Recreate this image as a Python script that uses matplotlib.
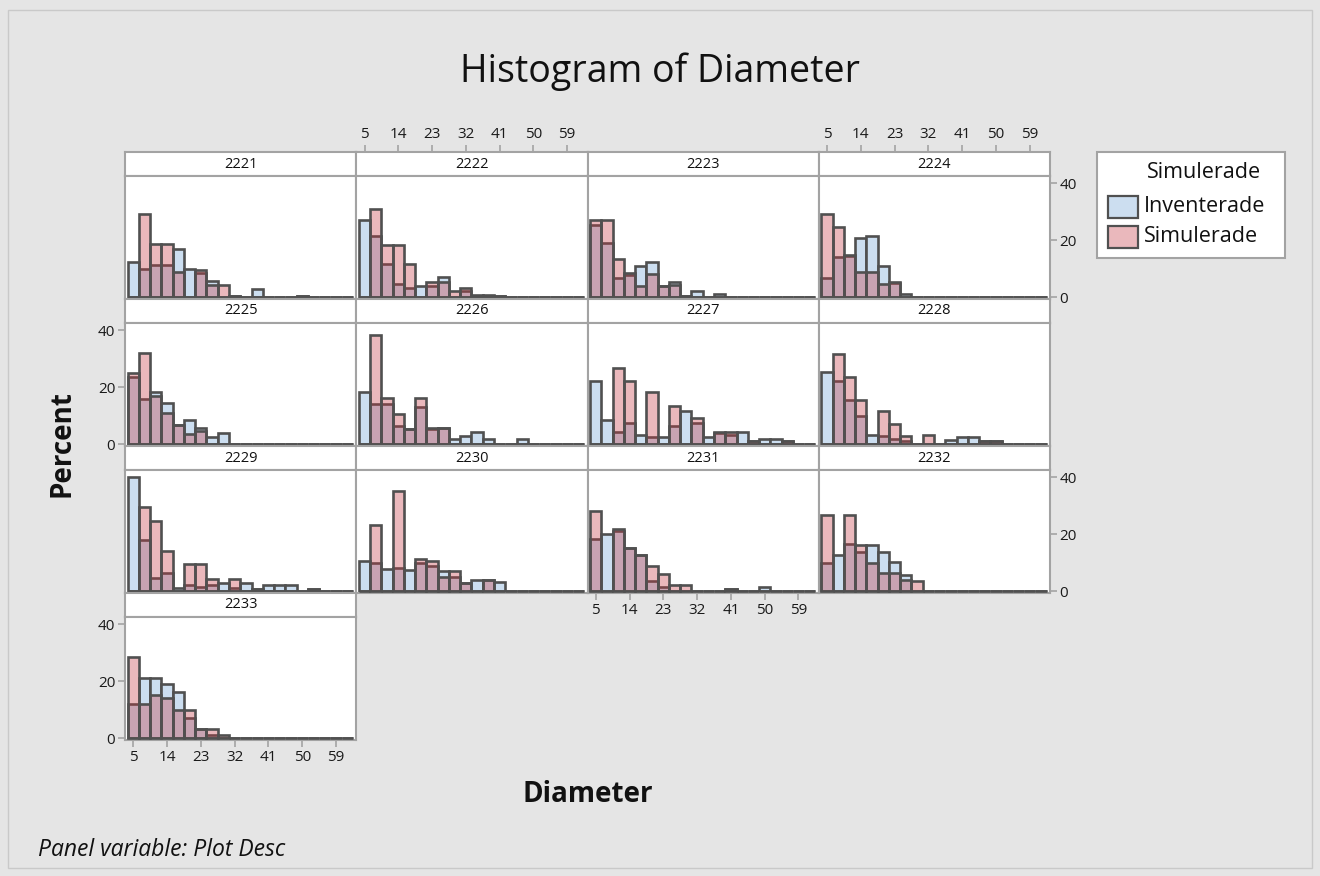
import matplotlib
matplotlib.use("Agg")
import matplotlib.pyplot as plt
from matplotlib.patches import Rectangle

plt.rcParams['font.family'] = ['Open Sans', 'DejaVu Sans']

# bin centres (bin width 3)
centers = [5 + 3 * k for k in range(20)]
xticks = [5, 14, 23, 32, 41, 50, 59]
yticks = [0, 20, 40]

panel_names = ['2221', '2222', '2223', '2224', '2225', '2226', '2227',
               '2228', '2229', '2230', '2231', '2232', '2233']

# percent per bin, Inventerade (inv) / Simulerade (sim)
inv_2221 = [12.3, 10, 11.3, 11.3, 17, 10, 8.4, 5.7, 0, 0.5, 0, 2.9, 0, 0, 0, 0.5]
sim_2221 = [0, 29, 18.6, 18.6, 8.8, 0, 9.4, 4.3, 4.3, 0.5, 0, 0, 0, 0, 0, 0.5]
inv_2222 = [26.9, 21.5, 11.7, 4.4, 3, 3.8, 3.8, 7, 0, 2, 0.6, 0.6, 0.4]
sim_2222 = [0, 30.9, 18.2, 18.2, 11.7, 0, 5.3, 5.3, 2, 3, 0, 0, 0.4]
inv_2223 = [25.4, 18.8, 6.7, 7.7, 10.9, 12.4, 3.8, 5.3, 0.5, 2.0, 0, 1.2]
sim_2223 = [26.9, 26.9, 13.3, 8.3, 3.8, 8.2, 3.8, 4.1, 0.5]
inv_2224 = [6.8, 14.2, 14.5, 20.7, 21.3, 10.9, 5, 1.2]
sim_2224 = [29.2, 24.7, 14.8, 8.9, 8.9, 4.5, 5.3]
inv_2225 = [23.4, 15.9, 18.3, 14.5, 6.8, 8.5, 5.5, 2.6, 3.8]
sim_2225 = [24.9, 32, 17, 10.9, 6.8, 3.6, 4.4]
inv_2226 = [18.2, 14.2, 14, 6.5, 5.3, 13, 5.3, 5.7, 1.8, 2.7, 4.1, 1.8, 0, 0, 1.8]
sim_2226 = [0, 38.3, 16.2, 10.7, 5.3, 16.2, 5.7, 5.7]
inv_2227 = [22.2, 8.3, 4.1, 7.3, 3.3, 2.6, 2.4, 6.5, 11.6, 7.3, 2.4, 4.0, 3.2, 4.1, 1.0, 1.8, 1.8, 1.0]
sim_2227 = [0, 0, 26.6, 22.2, 0, 18.3, 0, 13.3, 0, 9.2, 0, 4.1, 4.1, 0, 1.0, 0, 0, 1.0]
inv_2228 = [25.2, 22, 15.4, 9.8, 3, 2.7, 1.9, 1, 0, 0, 0, 1.5, 2.4, 2.4, 1, 1]
sim_2228 = [0, 31.5, 23.4, 15.4, 0, 11.6, 6.9, 2.7, 0, 3.3, 0, 0, 0, 0, 1, 1]
inv_2229 = [40, 18, 4.4, 6.2, 0.9, 2, 1.5, 2, 2.9, 1.2, 2.9, 0.6, 2, 2, 2, 0, 0.6]
sim_2229 = [0, 29.4, 24.5, 14, 0, 9.4, 9.4, 4.1, 0, 4.1, 0, 0.6, 0, 0, 0, 0, 0.6]
inv_2230 = [10.5, 10, 7.9, 8.1, 7.3, 10, 8.8, 6.9, 5, 2.9, 3.8, 3.8, 3.2]
sim_2230 = [0, 23.2, 0, 35.3, 0, 11.2, 10.7, 5, 6.9, 2.9, 0, 3.8]
inv_2231 = [18.2, 20, 21, 15, 12.8, 3.4, 1.4, 0, 0, 0, 0, 0, 0.8, 0, 0, 1.4]
sim_2231 = [28.1, 0, 21.8, 15.2, 12.8, 8.8, 5.8, 2, 2, 0, 0, 0, 0.8]
inv_2232 = [10, 12.8, 16.4, 13.8, 16.1, 13.8, 10.2, 5.5]
sim_2232 = [26.7, 0, 26.7, 16.1, 10, 6.5, 6.5, 3.8, 3.4]
inv_2233 = [12, 21, 21, 19, 16, 7, 3, 1]
sim_2233 = [28.5, 12, 15, 14, 10, 10, 3, 3, 1]

inv_all = [inv_2221, inv_2222, inv_2223, inv_2224, inv_2225, inv_2226, inv_2227,
           inv_2228, inv_2229, inv_2230, inv_2231, inv_2232, inv_2233]
sim_all = [sim_2221, sim_2222, sim_2223, sim_2224, sim_2225, sim_2226, sim_2227,
           sim_2228, sim_2229, sim_2230, sim_2231, sim_2232, sim_2233]

BG = '#e5e5e5'
FRAME = '#a3a3a3'
EDGE = '#505050'
BLUE = '#ccdef0'
PINK = (0.765, 0.21, 0.25, 0.35)

W, H = 1320, 876
fig = plt.figure(figsize=(W / 100, H / 100), dpi=100, facecolor=BG)


def pix_axes(x0, y0, x1, y1):
    return fig.add_axes([x0 / W, 1 - y1 / H, (x1 - x0) / W, (y1 - y0) / H])


def pad(vals):
    return list(vals) + [0] * (len(centers) - len(vals))


def style_frame(ax):
    for s in ax.spines.values():
        s.set_color(FRAME)
        s.set_linewidth(1.5)
    ax.tick_params(length=0, labelleft=False, labelbottom=False,
                   left=False, bottom=False)


col_w = 231.25
row_h = 147
xlim = (2.8, 64.4)
ylim = (-0.7, 42.5)
tick_kw = dict(colors=FRAME, labelcolor='#1a1a1a', labelsize=11,
               length=5, width=1.2, pad=2)

for i, name in enumerate(panel_names):
    r, c = divmod(i, 4)
    x0 = 125 + c * col_w
    x1 = x0 + col_w
    top = 152 + r * row_h

    st = pix_axes(x0, top, x1, top + 24)
    st.set_facecolor('white')
    style_frame(st)
    st.set_xlim(xlim)
    st.set_yticks([])
    st.set_xticks([])
    st.text(0.5, 0.5, name, transform=st.transAxes, ha='center',
            va='center', fontsize=10.5, color='#111111')

    ax = pix_axes(x0, top + 24, x1, top + row_h)
    ax.set_facecolor('white')
    style_frame(ax)
    ax.bar(centers, pad(inv_all[i]), width=3, color=BLUE,
           edgecolor=EDGE, linewidth=1.9, zorder=2)
    ax.bar(centers, pad(sim_all[i]), width=3, facecolor=PINK,
           edgecolor=EDGE, linewidth=1.9, zorder=3)
    ax.set_xlim(xlim)
    ax.set_ylim(ylim)
    ax.set_xticks(xticks)
    ax.set_yticks(yticks)

    # Minitab-style alternating axis labels
    if name in ('2222', '2224'):
        st.set_xticks(xticks)
        st.xaxis.tick_top()
        st.tick_params(axis='x', top=True, labeltop=True, **tick_kw)
    if name in ('2224', '2232'):
        ax.yaxis.tick_right()
        ax.tick_params(axis='y', right=True, labelright=True, **tick_kw)
    if name in ('2225', '2233'):
        ax.tick_params(axis='y', left=True, labelleft=True, **tick_kw)
    if name in ('2231', '2233'):
        ax.tick_params(axis='x', bottom=True, labelbottom=True, **tick_kw)

# overlay in pixel coordinates for titles and legend
ov = fig.add_axes([0, 0, 1, 1], zorder=10)
ov.set_xlim(0, W)
ov.set_ylim(H, 0)
ov.axis('off')
ov.patch.set_alpha(0)

ov.add_patch(Rectangle((8, 10), W - 16, H - 18, fill=False,
                       edgecolor='#c9c9c9', linewidth=1))

ov.text(660, 72, 'Histogram of Diameter', ha='center', va='center',
        fontsize=27, color='#111111')
ov.text(62, 444, 'Percent', ha='center', va='center', rotation=90,
        fontsize=20, fontweight='bold', color='#111111')
ov.text(588, 794, 'Diameter', ha='center', va='center',
        fontsize=20, fontweight='bold', color='#111111')
ov.text(38, 850, 'Panel variable: Plot Desc', ha='left', va='center',
        fontsize=16.5, fontstyle='italic', color='#111111')

# legend
ov.add_patch(Rectangle((1097, 152), 188, 106, facecolor='white',
                       edgecolor=FRAME, linewidth=1.5))
ov.text(1204, 173, 'Simulerade', ha='center', va='center', fontsize=15.5,
        color='#111111')
ov.add_patch(Rectangle((1108, 196), 30, 22, facecolor=BLUE,
                       edgecolor=EDGE, linewidth=1.6))
ov.add_patch(Rectangle((1108, 226), 30, 22, facecolor=PINK,
                       edgecolor=EDGE, linewidth=1.6))
ov.text(1144, 206, 'Inventerade', ha='left', va='center', fontsize=15.5,
        color='#111111')
ov.text(1144, 236, 'Simulerade', ha='left', va='center', fontsize=15.5,
        color='#111111')

fig.savefig('out.png', dpi=100, facecolor=BG)
